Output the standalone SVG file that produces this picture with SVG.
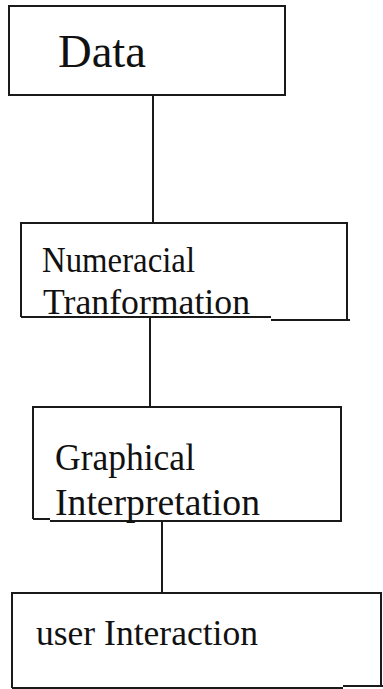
<svg xmlns="http://www.w3.org/2000/svg" width="383" height="689" viewBox="0 0 383 689">
<style>
.box{fill:none;stroke:#1a1a1a;stroke-width:2}
.conn{stroke:#1a1a1a;stroke-width:2;fill:none}
.t{font-family:"Liberation Serif","Times New Roman",serif;fill:#111}
</style>
<rect width="383" height="689" fill="#ffffff"/>
<g id="connectors">
<line class="conn" x1="153" y1="95" x2="153" y2="223"/>
<line class="conn" x1="150" y1="317" x2="150" y2="407"/>
<line class="conn" x1="162" y1="521" x2="162" y2="593"/>
</g>
<g id="node-data">
<rect class="box" x="9" y="6" width="276" height="89"/>
<text class="t" x="58" y="67" font-size="47" textLength="88" lengthAdjust="spacingAndGlyphs">Data</text>
</g>
<g id="node-numerical">
<path class="box" d="M21,317 V223 H347 V319 M21,317 H271 M271,320 H350"/>
<text class="t" x="42" y="272" font-size="36" textLength="153" lengthAdjust="spacingAndGlyphs">Numeracial</text>
<text class="t" x="43" y="314" font-size="36" textLength="207" lengthAdjust="spacingAndGlyphs">Tranformation</text>
</g>
<g id="node-graphical">
<path class="box" d="M33,519 V407 H341 V521 H50 M33,519 H50"/>
<text class="t" x="55" y="470" font-size="37" textLength="140" lengthAdjust="spacingAndGlyphs">Graphical</text>
<text class="t" x="55" y="515" font-size="37" textLength="205" lengthAdjust="spacingAndGlyphs">Interpretation</text>
</g>
<g id="node-user">
<path class="box" d="M12,688 V593 H381 V686 M12,688 H343 M343,686 H383"/>
<text class="t" x="36" y="645" font-size="35" textLength="222" lengthAdjust="spacingAndGlyphs">user Interaction</text>
</g>
</svg>
